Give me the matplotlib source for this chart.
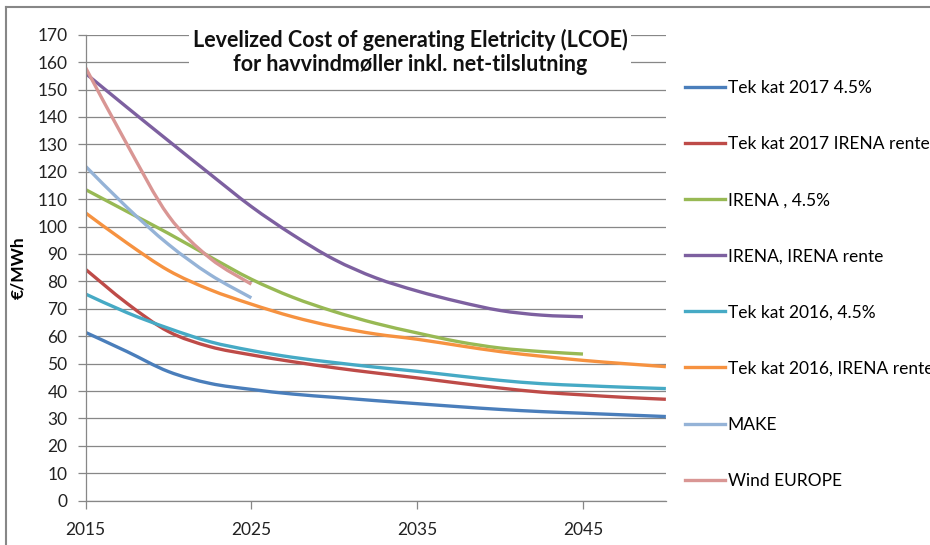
import matplotlib
matplotlib.use('Agg')
import matplotlib.pyplot as plt
from matplotlib.lines import Line2D
from matplotlib.path import Path
from matplotlib.patches import PathPatch

plt.rcParams['font.family'] = ['Lato', 'DejaVu Sans']

# years read at 2.5 year steps
years = [2015, 2017.5, 2020, 2022.5, 2025, 2027.5, 2030, 2032.5, 2035,
         2037.5, 2040, 2042.5, 2045, 2047.5, 2050]

tek17_45 = [61.4, 54.4, 47.1, 42.8, 40.6, 38.9, 37.7, 36.5, 35.4, 34.3, 33.3, 32.5, 31.9, 31.3, 30.7]
tek17_irena = [84.4, 72.0, 61.7, 56.2, 53.2, 50.7, 48.5, 46.6, 44.8, 42.9, 41.1, 39.6, 38.6, 37.7, 37.0]
irena_45 = [113.5, 105.5, 97.5, 89.0, 80.8, 74.2, 69.0, 64.7, 61.2, 58.0, 55.7, 54.4, 53.5]
irena_irena = [155.9, 143.5, 131.3, 119.2, 107.3, 97.0, 88.0, 81.3, 76.5, 72.6, 69.4, 67.7, 67.1]
tek16_45 = [75.4, 68.6, 62.9, 58.0, 54.8, 52.3, 50.4, 48.7, 47.2, 45.5, 43.9, 42.7, 42.0, 41.4, 40.9]
tek16_irena = [105.0, 94.0, 84.0, 77.0, 71.7, 67.1, 63.5, 60.8, 58.9, 56.6, 54.4, 52.7, 51.2, 50.0, 48.9]
make = [122.0, 107.0, 93.5, 82.5, 74.0]
wind_europe = [158.0, 130.0, 104.0, 88.5, 79.0]

series = [
    ('Tek kat 2017 4.5%', tek17_45, '#4A7EBB'),
    ('Tek kat 2017 IRENA rente', tek17_irena, '#BE4B48'),
    ('IRENA , 4.5%', irena_45, '#98B954'),
    ('IRENA, IRENA rente', irena_irena, '#7D60A0'),
    ('Tek kat 2016, 4.5%', tek16_45, '#46AAC5'),
    ('Tek kat 2016, IRENA rente', tek16_irena, '#F69240'),
    ('MAKE', make, '#95B3D7'),
    ('Wind EUROPE', wind_europe, '#D99694'),
]


def smooth_path(xs, ys):
    # Excel-style smoothed line: bezier segments through the data points
    pts = list(zip(xs, ys))
    verts = [pts[0]]
    codes = [Path.MOVETO]
    n = len(pts)
    for i in range(n - 1):
        p0 = pts[max(i - 1, 0)]
        p1 = pts[i]
        p2 = pts[i + 1]
        p3 = pts[min(i + 2, n - 1)]
        c1 = (p1[0] + (p2[0] - p0[0]) / 6, p1[1] + (p2[1] - p0[1]) / 6)
        c2 = (p2[0] - (p3[0] - p1[0]) / 6, p2[1] - (p3[1] - p1[1]) / 6)
        verts += [c1, c2, p2]
        codes += [Path.CURVE4] * 3
    return Path(verts, codes)


fig = plt.figure(figsize=(9.3, 5.45), dpi=100)
ax = fig.add_axes([0.092, 0.0813, 0.624, 0.855])

handles = []
for name, vals, col in series:
    path = smooth_path(years[:len(vals)], vals)
    ax.add_patch(PathPatch(path, fill=False, edgecolor=col, lw=2.4,
                           capstyle='butt', joinstyle='round'))
    handles.append(Line2D([], [], color=col, lw=2.4, label=name))

grey = '#878787'
ax.set_xlim(2015, 2050)
ax.set_ylim(0, 170)
ax.set_yticks(range(0, 171, 10))
ax.set_xticks([2015, 2025, 2035, 2045])
ax.grid(axis='y', color=grey, lw=0.9)
ax.set_axisbelow(True)
for s in ['top', 'right']:
    ax.spines[s].set_visible(False)
for s in ['left', 'bottom']:
    ax.spines[s].set_color(grey)
    ax.spines[s].set_linewidth(0.9)
ax.tick_params(axis='both', colors=grey, length=6, width=0.9, labelcolor='#222222',
               labelsize=12.5)
ax.tick_params(axis='x', pad=9)
ax.tick_params(axis='y', pad=7)

ax.set_ylabel('€/MWh', fontsize=12.5, fontweight='bold')
ax.yaxis.set_label_coords(-0.103, 0.5)

fig.text(410 / 930, 1 - 29 / 545,
         'Levelized Cost of generating Eletricity (LCOE)\nfor havvindmøller inkl. net-tilslutning',
         ha='center', va='top', fontsize=15.5, fontweight='bold',
         linespacing=1.2, color='#111111',
         bbox=dict(facecolor='white', edgecolor='none', pad=3))

leg = fig.legend(handles=handles, loc='upper left', bbox_to_anchor=(685 / 930, 1 - 80 / 545),
                 frameon=False, borderpad=0, borderaxespad=0,
                 fontsize=12.5, labelspacing=2.31, handlelength=2.3, handletextpad=0.15)

# outer chart frame (cut off on right and bottom)
fig.add_artist(Line2D([0.0065, 0.0065], [0, 0.987], color=grey, lw=1.5))
fig.add_artist(Line2D([0.0065, 1], [0.987, 0.987], color=grey, lw=1.5))

fig.savefig('out.png', dpi=100)
